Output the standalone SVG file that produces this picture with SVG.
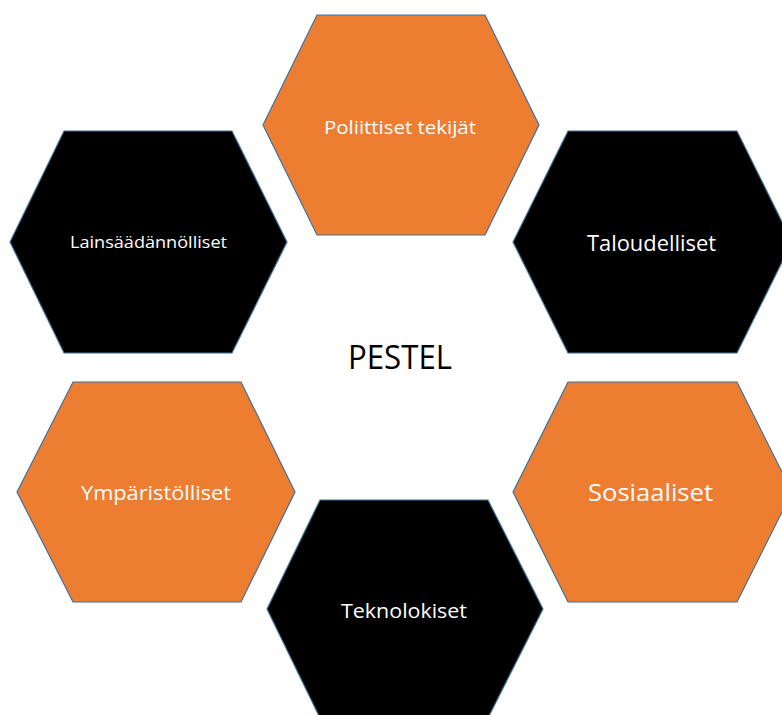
<svg xmlns="http://www.w3.org/2000/svg" width="782" height="715" viewBox="0 0 782 715">
  <style>
    .hex { stroke: #41719C; stroke-width: 1.2; }
    .orange { fill: #ED7D31; }
    .dark { fill: #000000; }
    .label { font-family: "Open Sans", "Noto Sans", sans-serif; fill: #FFFFFF; text-anchor: middle; }
    .title { font-family: "Open Sans", "Noto Sans", sans-serif; fill: #000000; text-anchor: middle; font-size: 32px; }
  </style>
  <rect width="782" height="715" fill="#FFFFFF"/>

  <g id="politiikka">
    <polygon class="hex orange" points="317,15 485,15 539,125 485,235 317,235 263,125"/>
    <text class="label" x="400" y="134" font-size="18" textLength="152" lengthAdjust="spacingAndGlyphs">Poliittiset tekijät</text>
  </g>

  <g id="lainsaadanto">
    <polygon class="hex dark" points="64,131 232,131 287,242 232,353 64,353 10,242"/>
    <text class="label" x="148.5" y="248" font-size="16.5" textLength="157" lengthAdjust="spacingAndGlyphs">Lainsäädännölliset</text>
  </g>

  <g id="talous">
    <polygon class="hex dark" points="568,131 737,131 792,242 737,353 568,353 513,242"/>
    <text class="label" x="651.5" y="251" font-size="21" textLength="129" lengthAdjust="spacingAndGlyphs">Taloudelliset</text>
  </g>

  <g id="ymparisto">
    <polygon class="hex orange" points="73,382 241,382 295,492 241,602 73,602 17,492"/>
    <text class="label" x="156" y="500" font-size="20" textLength="150" lengthAdjust="spacingAndGlyphs">Ympäristölliset</text>
  </g>

  <g id="sosiaalinen">
    <polygon class="hex orange" points="568,382 737,382 792,492 737,602 568,602 513,492"/>
    <text class="label" x="650.5" y="501" font-size="23" textLength="125" lengthAdjust="spacingAndGlyphs">Sosiaaliset</text>
  </g>

  <g id="teknologia">
    <polygon class="hex dark" points="320,500 488,500 543,609 488,718 320,718 267,609"/>
    <text class="label" x="404" y="618" font-size="20" textLength="126" lengthAdjust="spacingAndGlyphs">Teknolokiset</text>
  </g>

  <g id="keskus">
    <text class="title" x="400" y="369" textLength="104" lengthAdjust="spacingAndGlyphs">PESTEL</text>
  </g>

  <g id="connectors"></g>
</svg>
